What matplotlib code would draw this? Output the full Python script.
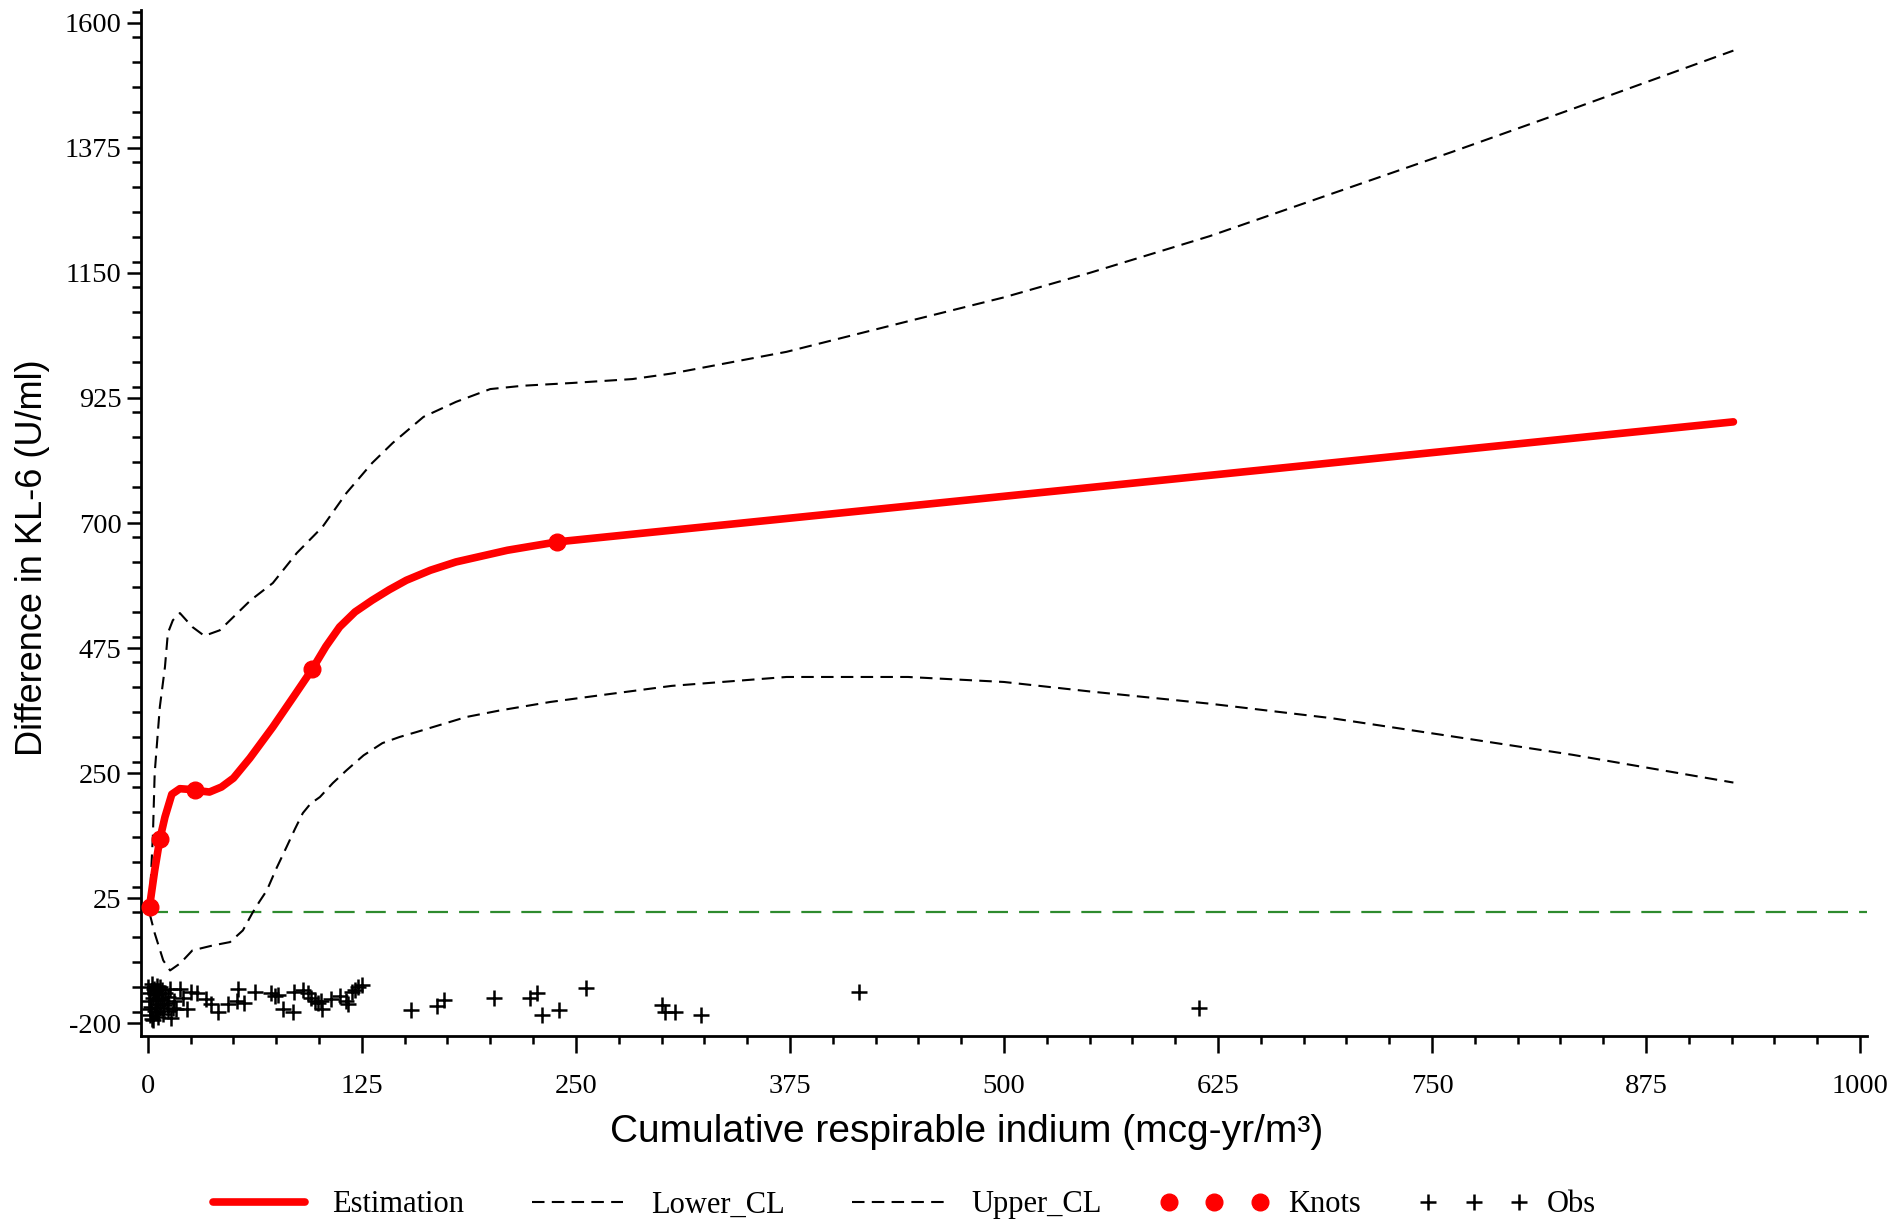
import numpy as np
import matplotlib.pyplot as plt
from matplotlib.ticker import MultipleLocator

plt.rcParams['axes.unicode_minus'] = False

# spline estimate and confidence limits
est_x = [1, 4, 7, 10, 14, 18.7, 23, 27.5, 36, 43, 50, 59.6, 73, 85, 96, 104, 112,
         121, 131, 141, 151, 165, 180, 210, 239, 926]
est_y = [10, 75, 131, 171, 212, 222, 221, 219, 216, 225, 241, 277, 333, 387, 437,
         478, 513, 540, 561, 580, 597, 615, 630, 651, 666, 882]

up_x = [1, 3, 4, 7, 10, 11.7, 14.6, 18.7, 26, 33, 42, 60, 73, 87, 102, 116, 131,
        143, 161, 180, 200, 219, 248, 283, 306, 373, 444, 500, 550, 620, 691, 762,
        832, 926]
up_y = [10, 142, 250, 369, 441, 502, 525, 538, 513, 497, 507, 561, 592, 646, 693,
        754, 808, 844, 891, 918, 941, 947, 952, 959, 969, 1008, 1063, 1106, 1150,
        1216, 1292, 1368, 1445, 1550]

lo_x = [1, 4, 9, 13, 19, 26, 38, 48, 55.5, 61, 65, 69.5, 75, 81, 86, 90.5, 95,
        100.5, 108, 116, 126, 137, 147, 157, 186, 206, 235, 264, 306, 373, 444,
        500, 550, 620, 691, 762, 832, 926]
lo_y = [-2, -38, -87, -105, -92, -69, -60, -54, -33, -2, 18, 39, 78, 117, 150,
        178, 195, 207, 232, 255, 282, 304, 315, 324, 351, 363, 378, 390, 407, 423,
        423, 414, 397, 375, 349, 316, 283, 233]

knot_x = [1, 7, 27.5, 96, 239]
knot_y = [10, 131, 219, 437, 666]

obs_x = [0, 0.5, 1, 1.5, 2, 2.5, 3, 3.5, 4, 4.5, 5, 5.5, 6, 6.5, 7, 8, 8.5, 9, 10,
         11, 12, 13, 13.8, 1.2, 2.2, 3.2, 4.2, 5.2, 6.2, 7.2, 9.5, 11.5, 14.5, 15.5,
         16.7, 18.7, 20.6, 22.6, 25.5, 29, 34, 37, 41, 47, 52, 52.7, 56, 62.5, 72,
         74, 76, 79, 85, 85.5, 90.7, 93.6, 95.5, 97.5, 99.5, 101, 102, 107, 112,
         116, 117, 119, 121, 122.8, 125,
         153.5, 169, 173, 202, 223, 227, 230, 240, 256, 300, 302, 307.6, 323,
         415.5, 614]
obs_y = [-135, -160, -185, -145, -170, -192, -155, -138, -178, -150, -165, -133,
         -188, -147, -172, -140, -158, -183, -146, -164, -178, -138, -190, -175,
         -130, -195, -142, -180, -157, -135, -168, -152, -172, -160,
         -174, -138, -155, -174, -143, -146, -157, -166, -180, -166, -160, -138,
         -164, -143, -146, -151, -149, -174, -180, -143, -140, -146, -155, -160,
         -163, -160, -174, -157, -151, -160, -166, -143, -140, -135, -132,
         -177, -169, -158, -155, -155, -146, -186, -177, -136, -167, -180, -180,
         -185, -143, -173]

x_ticks = [0, 125, 250, 375, 500, 625, 750, 875, 1000]
y_ticks = [-200, 25, 250, 475, 700, 925, 1150, 1375, 1600]

fig = plt.figure(figsize=(18.95, 12.22), dpi=100)
ax = fig.add_axes([0.0744, 0.1522, 0.9108, 0.8396])

ax.hlines(0, 0, 1004, color='#2e8b2e', lw=1.6, linestyles=(0, (9, 5)), zorder=1)
ax.plot(lo_x, lo_y, color='black', lw=1.5, dashes=(6, 3.5), label='Lower_CL')
ax.plot(up_x, up_y, color='black', lw=1.5, dashes=(6, 3.5), label='Upper_CL')
ax.plot(est_x, est_y, color='red', lw=5.5, solid_capstyle='round', label='Estimation', zorder=3)
ax.plot(knot_x, knot_y, 'o', color='red', ms=12, ls='none', label='Knots', zorder=4)
ax.plot(obs_x, obs_y, '+', color='black', ms=12, mew=1.8, ls='none', label='Obs')

ax.set_xlim(-4, 1004)
ax.set_ylim(-223, 1623)
ax.set_xticks(x_ticks)
ax.set_yticks(y_ticks)
ax.xaxis.set_minor_locator(MultipleLocator(25))
ax.yaxis.set_minor_locator(MultipleLocator(45))

for s in ['top', 'right']:
    ax.spines[s].set_visible(False)
for s in ['left', 'bottom']:
    ax.spines[s].set_linewidth(2)

ax.tick_params(axis='x', which='major', length=12, width=1.8, pad=15)
ax.tick_params(axis='x', which='minor', length=6, width=1.8)
ax.tick_params(axis='y', which='major', length=10, width=1.8, pad=4)
ax.tick_params(axis='y', which='minor', length=6.5, width=1.8)
for lab in ax.get_xticklabels() + ax.get_yticklabels():
    lab.set_fontfamily('Liberation Serif')
    lab.set_fontsize(20.5)

fig.text(0.510, 0.0736, 'Cumulative respirable indium (mcg-yr/m³)',
         family='Liberation Sans', fontsize=28, ha='center', va='center')
fig.text(0.0174, 0.544, 'Difference in KL-6 (U/ml)', family='Liberation Sans',
         fontsize=26, ha='center', va='center', rotation=90)

h, l = ax.get_legend_handles_labels()
order = [2, 0, 1, 3, 4]
leg = fig.legend([h[i] for i in order], [l[i] for i in order], loc='center',
                 bbox_to_anchor=(0.475, 0.014), ncol=5, frameon=False, numpoints=3,
                 handlelength=3.6, handletextpad=0.6, columnspacing=1.9,
                 prop={'family': 'Liberation Serif', 'size': 22})

fig.savefig('out.png', dpi=100)
